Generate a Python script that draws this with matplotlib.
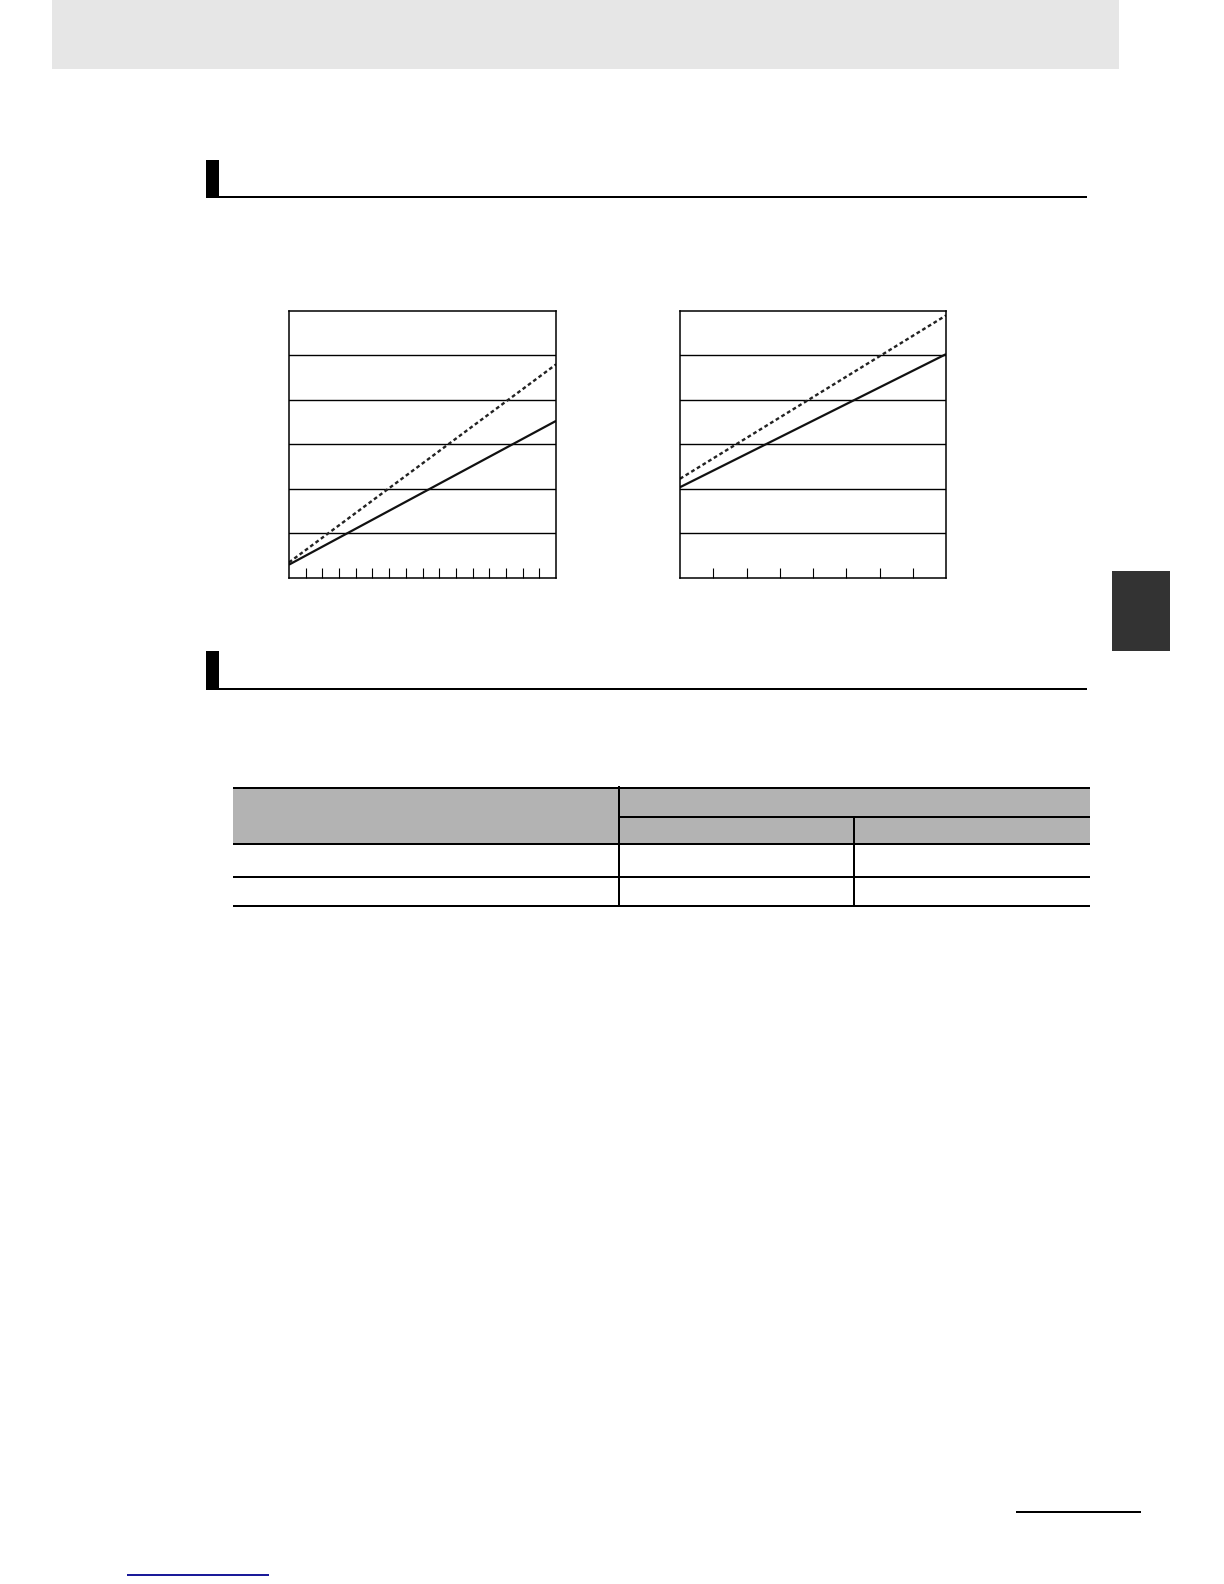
import matplotlib
matplotlib.use('Agg')
import matplotlib.pyplot as plt
from matplotlib.patches import Rectangle

W, H = 1224, 1584

# chart data (y in 0..60, six grid bands)
left_x = [0, 16]
left_solid = [3.0, 35.3]
left_dashed = [3.5, 48.0]
left_ticks = list(range(1, 16))

right_x = [0, 8]
right_solid = [20.4, 50.3]
right_dashed = [22.3, 59.0]
right_ticks = list(range(1, 8))

grid_levels = [10, 20, 30, 40, 50]
y_max = 60

# table layout: column edges and row edges (pixels)
col_edges = [233, 619, 854, 1090]
row_edges = [788, 817, 844, 877, 906]


def px_box(x0, y0, x1, y1):
    """figure fraction rect from pixel box (y down)"""
    return [x0 / W, 1 - y1 / H, (x1 - x0) / W, (y1 - y0) / H]


def rect(ax, x0, y0, x1, y1, color):
    ax.add_patch(Rectangle((x0, y0), x1 - x0, y1 - y0, facecolor=color,
                           edgecolor='none', linewidth=0))


def hline(ax, y, x0, x1, px, color='black'):
    rect(ax, x0, y - px / 2, x1, y + px / 2, color)


def vline(ax, x, y0, y1, px, color='black'):
    rect(ax, x - px / 2, y0, x + px / 2, y1, color)


def make_chart(box, xs, solid, dashed, ticks):
    ax = fig.add_axes(px_box(*box))
    ax.set_xlim(xs[0], xs[-1])
    ax.set_ylim(0, y_max)
    for g in grid_levels:
        ax.axhline(g, color='black', lw=1.0)
    ax.plot(xs, solid, color='#111111', lw=1.6, solid_capstyle='butt')
    ax.plot(xs, dashed, color='#222222', lw=1.7, dashes=(1.6, 1.2))
    ax.set_xticks(ticks)
    ax.set_xticklabels([])
    ax.set_yticks([])
    ax.tick_params(axis='x', direction='in', length=7, width=0.8,
                   color='black')
    for s in ax.spines.values():
        s.set_linewidth(1.1)
        s.set_color('black')
    return ax


fig = plt.figure(figsize=(W / 100, H / 100), dpi=100)
bg = fig.add_axes([0, 0, 1, 1])
bg.set_xlim(0, W)
bg.set_ylim(H, 0)
bg.axis('off')

# header band
rect(bg, 52, 0, 1119, 69, '#e6e6e6')

# section headings
for top, line_y in [(160, 197), (651, 689)]:
    rect(bg, 206, top, 219, line_y + 1, 'black')
    hline(bg, line_y, 206, 1087, 2.2)

# side tab
rect(bg, 1112, 571, 1170, 651, '#333333')

# table
rect(bg, col_edges[0], row_edges[0], col_edges[3], row_edges[2], '#b3b3b3')
hline(bg, row_edges[0], col_edges[0], col_edges[3], 1.2)
hline(bg, row_edges[1], col_edges[1], col_edges[3], 2.2)
hline(bg, row_edges[2], col_edges[0], col_edges[3], 2.6)
hline(bg, row_edges[3], col_edges[0], col_edges[3], 1.2)
hline(bg, row_edges[4], col_edges[0], col_edges[3], 2.4)
vline(bg, col_edges[1], row_edges[0] - 2, row_edges[4], 1.2)
vline(bg, col_edges[2], row_edges[1], row_edges[4], 1.2)

# page number rule and footer link
hline(bg, 1512, 1016, 1141, 2.0)
hline(bg, 1575, 127, 269, 1.2, '#1a1a99')

make_chart((289, 311, 556, 578), left_x, left_solid, left_dashed, left_ticks)
make_chart((680, 311, 946, 578), right_x, right_solid, right_dashed, right_ticks)

fig.savefig('out.png', dpi=100)
